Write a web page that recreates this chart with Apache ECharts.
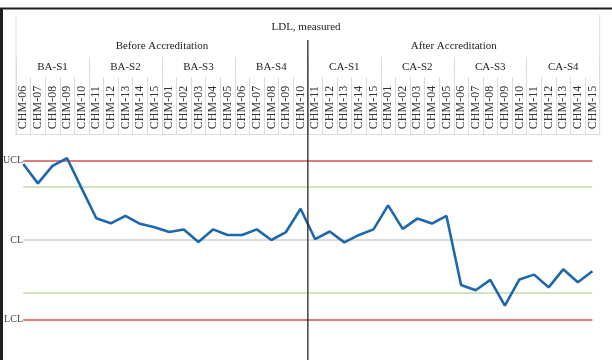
<!DOCTYPE html>
<html>
<head>
<meta charset="utf-8">
<script src="https://cdn.jsdelivr.net/npm/echarts@6/dist/echarts.min.js"></script>
<style>
  html, body { margin: 0; padding: 0; background: #fff; }
  #chart { width: 612px; height: 360px; }
</style>
</head>
<body>
<div id="chart"></div>
<script>
// Sample labels along the run (40 measurements)
const categories = [
  'CHM-06','CHM-07','CHM-08','CHM-09','CHM-10',
  'CHM-11','CHM-12','CHM-13','CHM-14','CHM-15',
  'CHM-01','CHM-02','CHM-03','CHM-04','CHM-05',
  'CHM-06','CHM-07','CHM-08','CHM-09','CHM-10',
  'CHM-11','CHM-12','CHM-13','CHM-14','CHM-15',
  'CHM-01','CHM-02','CHM-03','CHM-04','CHM-05',
  'CHM-06','CHM-07','CHM-08','CHM-09','CHM-10',
  'CHM-11','CHM-12','CHM-13','CHM-14','CHM-15'
];
// Survey groups (5 samples each) and accreditation phases (20 samples each)
const segments = ['BA-S1','BA-S2','BA-S3','BA-S4','CA-S1','CA-S2','CA-S3','CA-S4'];
const phases = ['Before Accreditation','After Accreditation'];

// LDL results, in standard deviations from the centre line
const ldl = [
  2.87, 2.14, 2.80, 3.09, 1.95, 0.82, 0.63, 0.91, 0.61, 0.48,
  0.30, 0.40, -0.08, 0.40, 0.19, 0.19, 0.40, 0.00, 0.30, 1.18,
  0.03, 0.32, -0.09, 0.19, 0.40, 1.31, 0.42, 0.81, 0.62, 0.91,
  -1.70, -1.90, -1.51, -2.48, -1.49, -1.31, -1.79, -1.11, -1.60, -1.18
];

// Control limits (UCL / CL / LCL) and warning limits (±2 SD)
const controlNames = ['UCL', 'CL', 'LCL'];
const controlValues = [3, 0, -3];
const warningValues = [2, -2];

const SERIF = '"Liberation Serif", "DejaVu Serif", serif';
const GRID = { left: 14.4, right: 12.3, top: 134.2, height: 224.8 };

const chart = echarts.init(document.getElementById('chart'), null, { renderer: 'canvas' });

const lastIdx = categories.length - 1;
const refLine = (values, color, width) => ({
  type: 'line',
  data: [],
  markLine: {
    silent: true,
    symbol: ['none', 'none'],
    label: { show: false },
    lineStyle: { color: color, width: width, type: 'solid' },
    data: values.map(v => [{ coord: [0, v] }, { coord: [lastIdx, v] }])
  }
});

chart.setOption({
  animation: false,
  title: {
    text: 'LDL, measured',
    left: 'center',
    top: 17,
    textStyle: { fontFamily: SERIF, fontSize: 11, fontWeight: 'normal', color: '#222' }
  },
  grid: Object.assign({ containLabel: false }, GRID),
  xAxis: [
    {
      type: 'category',
      position: 'top',
      data: categories,
      boundaryGap: true,
      axisLine: { show: true, onZero: false, lineStyle: { color: '#dcdcdc', width: 1 } },
      axisTick: { show: true, interval: 0, length: 57, lineStyle: { color: '#dcdcdc' } },
      axisLabel: {
        interval: 0, rotate: -90, margin: 5,
        fontFamily: SERIF, fontSize: 12, color: '#333'
      },
      splitLine: { show: false }
    },
    {
      type: 'category',
      position: 'top',
      offset: 57.2,
      data: segments,
      boundaryGap: true,
      axisLine: { show: false, onZero: false },
      axisTick: { show: true, interval: 0, length: 20, lineStyle: { color: '#dcdcdc' } },
      axisLabel: { interval: 0, margin: 4, fontFamily: SERIF, fontSize: 11, color: '#222' },
      splitLine: { show: false }
    },
    {
      type: 'category',
      position: 'top',
      offset: 77.2,
      data: phases,
      boundaryGap: true,
      axisLine: { show: false, onZero: false },
      axisTick: { show: false },
      axisLabel: { interval: 0, margin: 5, fontFamily: SERIF, fontSize: 11, color: '#222' },
      splitLine: { show: false }
    }
  ],
  yAxis: {
    type: 'value',
    min: -4.5,
    max: 4,
    interval: 0.5,
    axisLine: { show: false },
    axisTick: { show: false },
    splitLine: { show: false },
    axisLabel: {
      margin: -7,
      fontFamily: SERIF,
      fontSize: 10,
      color: '#444',
      formatter: function (v) {
        const i = controlValues.indexOf(v);
        return i >= 0 ? controlNames[i] : '';
      }
    }
  },
  series: [
    refLine([controlValues[1]], '#cfcfcf', 1.5),
    refLine(warningValues, '#c3dcae', 1.5),
    refLine([controlValues[0], controlValues[2]], '#e27b7b', 1.8),
    {
      name: 'LDL',
      type: 'line',
      data: ldl,
      symbol: 'none',
      lineStyle: { color: '#1d68ad', width: 2.6 },
      z: 5
    }
  ]
});

// Table rules, outer frame and the phase divider, placed through the axis scale
function drawFrame() {
  const xAt = i => chart.convertToPixel({ xAxisIndex: 0 }, i);
  const half = (xAt(1) - xAt(0)) / 2;
  const left = xAt(0) - half;
  const right = xAt(lastIdx) + half;
  const divider = (xAt(19) + xAt(20)) / 2;
  const gridTop = GRID.top;
  chart.setOption({
    graphic: [
      { type: 'line', shape: { x1: left, y1: 17, x2: left, y2: gridTop }, style: { stroke: '#dcdcdc', lineWidth: 1 }, silent: true },
      { type: 'line', shape: { x1: right, y1: 15, x2: right, y2: gridTop }, style: { stroke: '#dcdcdc', lineWidth: 1 }, silent: true },
      { type: 'line', shape: { x1: divider, y1: 40, x2: divider, y2: 360 }, style: { stroke: '#262626', lineWidth: 1.3 }, z: 10, silent: true },
      { type: 'line', shape: { x1: 0, y1: 8.5, x2: 612, y2: 8.5 }, style: { stroke: '#1e1e1e', lineWidth: 2 }, silent: true },
      { type: 'line', shape: { x1: 1.5, y1: 8, x2: 1.5, y2: 360 }, style: { stroke: '#1e1e1e', lineWidth: 3 }, silent: true }
    ]
  });
}
drawFrame();
</script>
</body>
</html>
